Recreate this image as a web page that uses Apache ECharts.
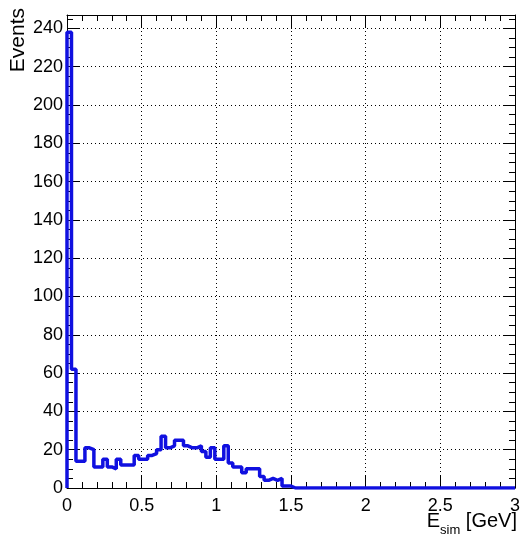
<!DOCTYPE html>
<html>
<head>
<meta charset="utf-8">
<script src="https://cdn.jsdelivr.net/npm/echarts@6/dist/echarts.min.js"></script>
<style>
html,body{margin:0;padding:0;background:#fff;}
#chart{width:523px;height:541px;}
</style>
</head>
<body>
<div id="chart"></div>
<script>
// Histogram: 100 bins from 0 to 3 GeV
var xMin = 0, xMax = 3;
var binWidth = 0.03;
var counts = [
  238, 62, 14, 14, 21, 20, 11, 11, 15, 11,
  10, 15, 12, 12, 12, 17, 15, 15, 17, 18,
  20, 27, 21, 22, 25, 25, 22, 21, 21, 22,
  19, 16, 21, 15, 15, 22, 13, 11, 11, 8,
  10, 10, 10, 6, 4, 5, 4, 5, 1, 1,
  0, 0, 0, 0, 0, 0, 0, 0, 0, 0,
  0, 0, 0, 0, 0, 0, 0, 0, 0, 0,
  0, 0, 0, 0, 0, 0, 0, 0, 0, 0,
  0, 0, 0, 0, 0, 0, 0, 0, 0, 0,
  0, 0, 0, 0, 0, 0, 0, 0, 0, 0
];
var yMax = 247;
var xTitle = ['E', 'sim', ' [GeV]'];
var yTitle = 'Events';

var stepData = [[xMin, 0]];
for (var i = 0; i < counts.length; i++) {
  stepData.push([+(xMin + i * binWidth).toFixed(4), counts[i]]);
}
stepData.push([xMax, counts[counts.length - 1]]);

var font = 'Liberation Sans, Arial, Helvetica, sans-serif';
var chart = echarts.init(document.getElementById('chart'), null, {renderer: 'canvas'});

function xAx(pos, labels) {
  return {
    type: 'value', position: pos, min: xMin, max: xMax, interval: 0.5,
    axisLine: {show: true, onZero: false, lineStyle: {color: '#000', width: 1}},
    axisTick: {show: true, inside: true, length: 12, lineStyle: {color: '#000', width: 1}},
    minorTick: {show: true, splitNumber: 5, length: 6, lineStyle: {color: '#000', width: 1}},
    axisLabel: {show: labels, color: '#000', fontSize: 18, fontFamily: font, margin: 9},
    splitLine: {show: labels, lineStyle: {color: '#000', type: [1, 3], width: 1}},
    minorSplitLine: {show: false}
  };
}
function yAx(pos, labels) {
  return {
    type: 'value', position: pos, min: 0, max: yMax, interval: 20,
    axisLine: {show: true, onZero: false, lineStyle: {color: '#000', width: 1}},
    axisTick: {show: true, inside: true, length: 12, lineStyle: {color: '#000', width: 1}},
    minorTick: {show: true, splitNumber: 4, length: 6, lineStyle: {color: '#000', width: 1}},
    axisLabel: {show: labels, showMaxLabel: false, color: '#000', fontSize: 18, fontFamily: font, margin: 4,
      formatter: function (v) { return (v % 20 === 0) ? String(v) : ''; }},
    splitLine: {show: labels, lineStyle: {color: '#000', type: [1, 3], width: 1}},
    minorSplitLine: {show: false}
  };
}

chart.setOption({
  animation: false,
  backgroundColor: '#fff',
  grid: {left: 67, right: 6, top: 15, bottom: 53, containLabel: false},
  xAxis: [xAx('bottom', true), xAx('top', false)],
  yAxis: [yAx('left', true), yAx('right', false)],
  series: [{
    type: 'line', step: 'end', xAxisIndex: 0, yAxisIndex: 0,
    data: stepData, showSymbol: false, symbol: 'none',
    lineStyle: {color: '#1010e0', width: 3.5},
    clip: true
  }],
  graphic: [
    {
      type: 'text', right: 6, top: 511,
      style: {
        text: '{a|' + xTitle[0] + '}{s|' + xTitle[1] + '}{a|' + xTitle[2] + '}',
        rich: {
          a: {fontSize: 20, fontFamily: font, fill: '#000', verticalAlign: 'bottom'},
          s: {fontSize: 13, fontFamily: font, fill: '#000', verticalAlign: 'bottom', padding: [0, 0, -6, 0]}
        }
      }
    },
    {
      type: 'text', x: 8, y: 8, rotation: Math.PI / 2,
      style: {
        text: yTitle, fontSize: 21, fontFamily: font, fill: '#000',
        align: 'right', verticalAlign: 'top'
      }
    }
  ]
});
</script>
</body>
</html>
